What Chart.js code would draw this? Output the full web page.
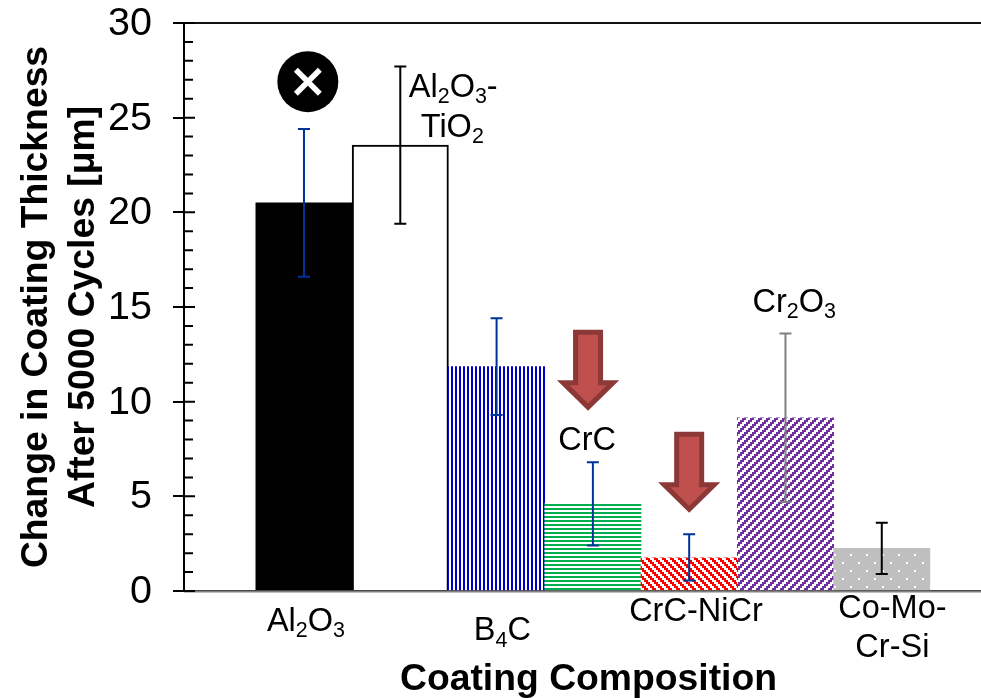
<!DOCTYPE html>
<html>
<head>
<meta charset="utf-8">
<title>Change in Coating Thickness</title>
<script src="https://cdn.jsdelivr.net/npm/chart.js@4"></script>
<style>
  html, body { margin: 0; padding: 0; background: #fff; overflow: hidden; width: 981px; height: 698px; }
  canvas { display: block; }
</style>
</head>
<body>
<canvas id="myChart" width="993" height="698"></canvas>
<script>
const categorias = ["Al2O3", "Al2O3-TiO2", "B4C", "CrC", "CrC-NiCr", "Cr2O3", "Co-Mo-Cr-Si"];
const posiciones = [1, 2, 3, 4, 5, 6, 7];
const valores = [20.5, 23.55, 11.85, 4.6, 1.75, 9.15, 2.25];
const error_alto = [24.4, 27.7, 14.4, 6.8, 3.0, 13.6, 3.6];
const error_bajo = [16.6, 19.4, 9.3, 2.4, 0.55, 4.7, 0.9];
const y_ticks_menores = [1, 2, 3, 4, 6, 7, 8, 9, 11, 12, 13, 14, 16, 17, 18, 19, 21, 22, 23, 24, 26, 27, 28, 29];

// "_" marca el digito siguiente como subindice
const etiquetas_texto = ["Al_2O_3", "B_4C", "CrC-NiCr", "Co-Mo-", "Cr-Si", "Al_2O_3-", "TiO_2", "CrC", "Cr_2O_3"];
const etiquetas_x = [1.02, 3.06, 5.07, 7.11, 7.11, 2.55, 2.54, 3.94, 6.09];
const etiquetas_y = [-2.1, -2.6, -1.6, -1.4, -3.5, 26.1, 24.0, 7.45, 14.75];

const flechas_x = [3.95, 5.0];
const flechas_y = [9.5, 4.1];
const marca_x = [1.04];
const marca_y = [26.9];

const colores_error = ["#003399", "#000000", "#003399", "#003399", "#003399", "#808080", "#000000"];

function crear_patron(tam, fondo, color, pintar) {
  const c = document.createElement("canvas");
  c.width = tam;
  c.height = tam;
  const g = c.getContext("2d");
  g.fillStyle = fondo;
  g.fillRect(0, 0, tam, tam);
  g.fillStyle = color;
  pintar(g);
  return g.createPattern(c, "repeat");
}

function diagonal(signo) {
  return function (g) {
    for (let y = 0; y < 8; y += 2) {
      for (let x = 0; x < 8; x += 2) {
        if (((x + signo * y + 16) % 8) < 4) g.fillRect(x, y, 2, 2);
      }
    }
  };
}

const rellenos = [
  "#000000",
  "#ffffff",
  crear_patron(4, "#ffffff", "#0000cc", (g) => { g.fillRect(0, 0, 1, 4); g.fillRect(3, 0, 1, 4); }),
  crear_patron(4, "#ffffff", "#00b050", (g) => { g.fillRect(0, 0, 4, 2); }),
  crear_patron(8, "#ffffff", "#ff0000", diagonal(-1)),
  crear_patron(8, "#ffffff", "#7030a0", diagonal(1)),
  crear_patron(16, "#bfbfbf", "#ffffff", (g) => { g.fillRect(2, 10, 2, 2); g.fillRect(10, 2, 2, 2); }),
];

function texto_con_subindice(ctx, texto, cx, base, tam) {
  const partes = texto.match(/_\d|[^_]+/g);
  const medir = (p) => {
    ctx.font = (p[0] === "_" ? tam * 0.66 : tam) + "px 'Liberation Sans'";
    return ctx.measureText(p.replace("_", "")).width;
  };
  let x = cx - partes.reduce((s, p) => s + medir(p), 0) / 2;
  ctx.textAlign = "left";
  ctx.textBaseline = "alphabetic";
  ctx.fillStyle = "#000";
  partes.forEach((p) => {
    const ancho = medir(p);
    ctx.fillText(p.replace("_", ""), x, p[0] === "_" ? base + tam * 0.2 : base);
    x += ancho;
  });
}

function pintar_flecha(ctx, cx, punta) {
  ctx.beginPath();
  ctx.moveTo(cx - 12.5, punta - 79);
  ctx.lineTo(cx + 12.5, punta - 79);
  ctx.lineTo(cx + 12.5, punta - 28.5);
  ctx.lineTo(cx + 25, punta - 28.5);
  ctx.lineTo(cx, punta - 4);
  ctx.lineTo(cx - 25, punta - 28.5);
  ctx.lineTo(cx - 12.5, punta - 28.5);
  ctx.closePath();
  ctx.fillStyle = "#c0504d";
  ctx.fill();
  ctx.lineWidth = 5;
  ctx.lineJoin = "miter";
  ctx.strokeStyle = "#8c3836";
  ctx.stroke();
}

const extras = {
  id: "extras",
  afterDatasetsDraw(chart) {
    const ctx = chart.ctx;
    const xs = chart.scales.x;
    const ys = chart.scales.y;
    const area = chart.chartArea;
    ctx.save();

    // eje x gris sobre las barras
    ctx.strokeStyle = "#808080";
    ctx.lineWidth = 2;
    ctx.beginPath();
    ctx.moveTo(area.left, area.bottom + 0.5);
    ctx.lineTo(area.right, area.bottom + 0.5);
    ctx.stroke();

    // ticks menores y parte interior de los mayores
    ctx.strokeStyle = "#000";
    ctx.lineWidth = 2;
    ctx.beginPath();
    y_ticks_menores.forEach((v) => {
      ctx.moveTo(area.left, ys.getPixelForValue(v));
      ctx.lineTo(area.left + 9, ys.getPixelForValue(v));
    });
    [0, 5, 10, 15, 20, 25, 30].forEach((v) => {
      ctx.moveTo(area.left, ys.getPixelForValue(v));
      ctx.lineTo(area.left + 11, ys.getPixelForValue(v));
    });
    ctx.stroke();

    // barras de error
    posiciones.forEach((p, i) => {
      const x = xs.getPixelForValue(p);
      const alto = ys.getPixelForValue(error_alto[i]);
      const bajo = ys.getPixelForValue(error_bajo[i]);
      ctx.strokeStyle = colores_error[i];
      ctx.lineWidth = 2;
      ctx.beginPath();
      ctx.moveTo(x, alto);
      ctx.lineTo(x, bajo);
      ctx.moveTo(x - 6, alto);
      ctx.lineTo(x + 6, alto);
      ctx.moveTo(x - 6, bajo);
      ctx.lineTo(x + 6, bajo);
      ctx.stroke();
    });

    flechas_x.forEach((v, i) => {
      pintar_flecha(ctx, xs.getPixelForValue(v), ys.getPixelForValue(flechas_y[i]));
    });

    // marca de fallo
    const mx = xs.getPixelForValue(marca_x[0]);
    const my = ys.getPixelForValue(marca_y[0]);
    ctx.fillStyle = "#000";
    ctx.beginPath();
    ctx.arc(mx, my, 30.5, 0, Math.PI * 2);
    ctx.fill();
    ctx.strokeStyle = "#fff";
    ctx.lineWidth = 5.5;
    ctx.beginPath();
    ctx.moveTo(mx - 12, my - 12);
    ctx.lineTo(mx + 12, my + 12);
    ctx.moveTo(mx + 12, my - 12);
    ctx.lineTo(mx - 12, my + 12);
    ctx.stroke();

    etiquetas_texto.forEach((t, i) => {
      texto_con_subindice(ctx, t, xs.getPixelForValue(etiquetas_x[i]), ys.getPixelForValue(etiquetas_y[i]), 32.5);
    });
    ctx.restore();
  },
};

new Chart(document.getElementById("myChart"), {
  type: "bar",
  data: {
    labels: categorias,
    datasets: [
      {
        label: "Change in Coating Thickness",
        data: posiciones.map((p, i) => ({ x: p, y: valores[i] })),
        backgroundColor: rellenos,
        borderColor: "#000",
        borderWidth: (c) => (c.dataIndex === 1 ? 2 : 0),
        barPercentage: 1,
        categoryPercentage: 1,
      },
    ],
  },
  options: {
    responsive: false,
    animation: false,
    layout: { padding: { top: 23, left: 0, right: 0, bottom: 0 } },
    plugins: { legend: { display: false }, tooltip: { enabled: false } },
    scales: {
      x: {
        type: "linear",
        offset: false,
        min: -0.246,
        max: 8.155,
        ticks: { display: false },
        grid: { display: false },
        border: { display: false },
        afterFit: (s) => { s.height = 107; },
        title: {
          display: true,
          text: "Coating Composition",
          color: "#000",
          font: { family: "'Liberation Sans'", size: 37.3, weight: "bold", lineHeight: 1 },
          padding: 0,
        },
      },
      y: {
        min: 0,
        max: 30,
        ticks: {
          stepSize: 5,
          color: "#000",
          padding: 21,
          labelOffset: 1,
          font: { family: "'Liberation Sans'", size: 39.5 },
        },
        grid: {
          color: (c) => (c.tick.value === 0 || c.tick.value === 30 ? "#111" : "rgba(0,0,0,0)"),
          tickColor: "#000",
          tickLength: 11,
          lineWidth: 2,
          tickWidth: 2,
        },
        border: { color: "#000", width: 2 },
        afterFit: (s) => {
          s.width = 184;
          s.paddingTop = 0;
          s.paddingBottom = 0;
        },
        title: {
          display: true,
          text: ["Change in Coating Thickness", "After 5000 Cycles [\u03bcm]"],
          color: "#000",
          font: { family: "'Liberation Sans'", size: 37.3, weight: "bold", lineHeight: 1.26 },
          padding: { top: 13, bottom: 0 },
        },
      },
    },
  },
  plugins: [extras],
});
</script>
</body>
</html>
